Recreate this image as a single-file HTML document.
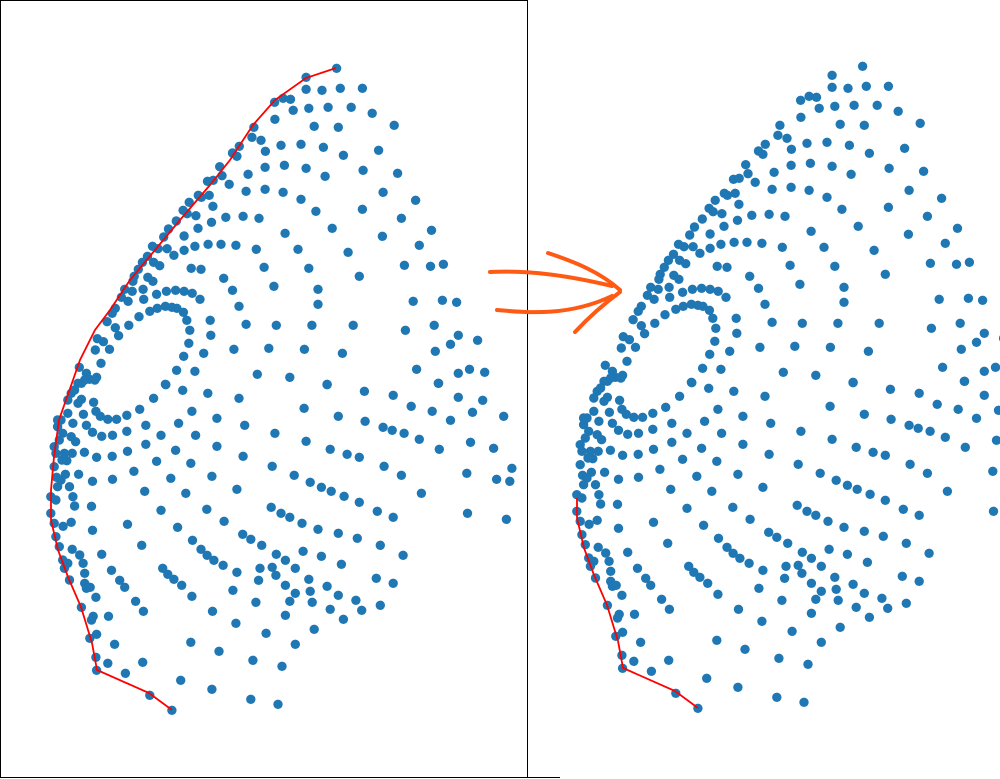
<!DOCTYPE html>
<html><head><meta charset="utf-8"><style>
html,body{margin:0;padding:0;background:#fff;}
svg{display:block;font-family:"Liberation Sans",sans-serif;}
</style></head><body>
<svg id="chart" width="1000" height="779" viewBox="0 0 1000 779" xmlns="http://www.w3.org/2000/svg">
<rect x="0.5" y="0.5" width="527" height="777" fill="none" stroke="#000" stroke-width="1"/>
<line x1="527" y1="777.5" x2="560" y2="777.5" stroke="#000" stroke-width="1"/>
<g id="left"></g>
<g id="right"></g>
<g fill="none" stroke="#ff5a14" stroke-width="4" stroke-linecap="round">
<path d="M490,272 C530,270 570,276 612,286"/>
<path d="M497,310 C530,313 570,316 612,296"/>
<path d="M548,253 C575,262 600,272 620,290"/>
<path d="M575,332 C590,316 605,303 620,292"/>
</g>
</svg>
<script>
const topPoints=[[993,55],[903,82],[903,118],[950,121],[1004,115],[1069,115],[810,157],[835,145],[857,148],[865,181],[911,175],[968,172],[1036,172],[1098,190],[811,208],[927,229],[998,232],[1163,226],[749,232],[743,262],[770,271],[706,289],[783,304],[829,286],[888,283],[954,292],[1013,316],[1117,301],[699,319],[686,309],[648,350],[655,377],[732,373],[782,352],[839,346],[903,355],[959,379],[1071,361],[1173,370],[612,394],[629,391],[676,403],[726,424],[782,418],[835,427],[888,448],[1130,427],[1226,451],[585,436],[617,436],[594,442],[628,469],[558,457],[540,481],[552,491],[578,497],[624,517],[666,502],[717,499],[764,505],[932,484],[1069,478],[1184,505],[520,513],[497,537],[483,561],[543,558],[584,535],[841,550],[980,535],[1128,559],[1273,541],[466,596],[493,596],[513,616],[543,601],[575,589],[614,583],[652,583],[696,586],[756,598],[879,598],[1027,607],[1237,586],[450,589],[435,619],[453,637],[471,647],[420,637],[564,655],[593,658],[779,652],[911,655],[1060,679],[1193,646],[1270,649],[1308,643],[408,658],[396,679],[436,682],[451,694],[392,694],[660,685],[686,721],[808,709],[938,718],[368,718],[390,724],[422,718],[462,733],[491,724],[518,721],[543,724],[567,730],[590,748],[358,742],[378,754],[424,748],[705,769],[938,763],[1219,754],[1305,751],[1347,757],[340,775],[331,790],[410,800],[442,784],[464,775],[488,769],[507,772],[522,775],[541,787],[551,811],[620,811],[726,823],[815,826],[920,826],[1042,826],[1196,841],[1281,826],[1352,856],[1409,871],[316,815],[340,833],[380,826],[350,857],[560,841],[622,856],[557,880],[601,910],[690,898],[793,895],[898,898],[1010,910],[1284,904],[1329,883],[287,866],[305,875],[323,898],[281,900],[298,940],[542,919],[521,961],[575,964],[759,973],[855,982],[965,1003],[1229,958],[1352,970],[1385,958],[1430,967],[1293,1000],[488,1003],[234,952],[255,970],[285,982],[264,988],[240,1000]];
const bottomPoints=[[489,14],[539,31],[613,40],[705,55],[453,55],[965,14],[1075,34],[1160,46],[1294,10],[1352,52],[1424,61],[1213,79],[1275,94],[1394,97],[1486,109],[1329,121],[897,85],[998,109],[1077,124],[1130,142],[1157,151],[1192,160],[1237,178],[1296,208],[1388,187],[1456,205],[1510,265],[1377,280],[1465,298],[1504,304],[1379,400],[1494,418],[412,88],[374,106],[344,118],[318,118],[296,109],[283,94],[276,67],[246,103],[210,40],[240,58],[200,100],[180,120],[215,130],[255,136],[273,157],[300,169],[332,166],[374,154],[430,136],[475,166],[527,130],[566,94],[640,115],[722,136],[577,166],[640,199],[717,229],[811,160],[903,184],[974,208],[1024,223],[1060,232],[1133,259],[1184,286],[1243,340],[803,259],[868,286],[915,307],[948,322],[977,334],[1015,349],[1060,367],[1113,394],[1160,412],[800,382],[829,400],[855,412],[891,430],[938,448],[998,460],[1054,475],[1122,496],[1189,526],[716,463],[740,478],[772,496],[815,523],[842,541],[871,565],[894,514],[948,529],[1007,553],[1110,595],[1160,610],[568,481],[593,508],[611,526],[631,541],[658,556],[699,577],[767,565],[803,562],[814,586],[763,601],[842,616],[871,640],[911,598],[915,634],[965,619],[998,646],[1050,661],[1067,691],[1122,676],[921,667],[974,688],[1013,718],[855,664],[842,706],[755,667],[687,631],[696,730],[785,760],[871,793],[927,748],[832,859],[746,841],[646,814],[563,787],[627,694],[566,649],[536,616],[513,598],[495,583],[480,565],[423,694],[400,664],[368,622],[353,601],[329,571],[300,523],[250,610],[255,625],[266,622],[250,580],[245,550],[235,525],[213,508],[200,550],[190,565],[205,600],[283,652],[240,682],[275,709],[270,720],[320,709],[285,763],[265,775],[338,793],[283,832],[285,871],[318,850],[370,880],[421,847],[442,946],[507,991],[533,901],[625,928],[740,958],[820,973],[376,214],[331,229],[285,232],[249,217],[213,220],[197,242],[232,283],[193,283],[167,292],[273,304],[332,298],[395,274],[462,244],[430,193],[518,211],[563,250],[504,295],[427,334],[548,340],[475,391],[610,388],[699,328],[625,289],[661,424],[524,442],[418,496],[376,433],[273,451],[270,379],[210,427],[186,439],[160,430],[150,400],[150,350],[165,360],[205,320],[215,350],[220,378],[170,320],[180,300],[160,260],[160,200],[175,180],[185,160],[170,140],[165,220],[190,220],[183,240],[165,470],[175,500],[185,540],[170,120],[223,185],[210,170],[230,70],[200,60],[220,30],[230,10],[250,0],[280,0]];
const hullLeft=[[336,68],[306,78],[275,100],[253,125],[230,160],[210,185],[180,220],[155,250],[130,280],[110,310],[95,330],[80,360],[73,380],[59,420],[54,457],[51,490],[51,520],[58,550],[68,577],[81,607],[92,643],[97,670],[149,693],[172,710]];
const hullRight=[[51,500],[51,520],[58,550],[68,577],[81,607],[92,643],[97,670],[149,693],[172,710]];

const NS='http://www.w3.org/2000/svg';
function xScale(v,off){return v/2.95+off;}
function yTop(v,dy){return 50+v/3+dy;}
function yBot(v,dy){return 380+v/3+dy;}
function drawPanel(g,off,dy,hull,name){
  const pts=[];
  topPoints.forEach(p=>pts.push([xScale(p[0],off),yTop(p[1],dy)]));
  bottomPoints.forEach(p=>pts.push([xScale(p[0],off),yBot(p[1],dy)]));
  pts.forEach(p=>{
    const c=document.createElementNS(NS,'circle');
    c.setAttribute('cx',p[0].toFixed(1));c.setAttribute('cy',p[1].toFixed(1));
    c.setAttribute('r','4.7');c.setAttribute('fill','#1f77b4');
    
    
    g.appendChild(c);
  });
  const pl=document.createElementNS(NS,'polyline');
  pl.setAttribute('points',hull.map(p=>(p[0]+off)+','+(p[1]+dy)).join(' '));
  pl.setAttribute('fill','none');pl.setAttribute('stroke','#ff0000');pl.setAttribute('stroke-width','1.8');
  
  
  g.appendChild(pl);
}
drawPanel(document.getElementById('left'),0,0,hullLeft,'left-boundary-line');
drawPanel(document.getElementById('right'),526,-2,hullRight,'right-boundary-line');
</script>
</body></html>
